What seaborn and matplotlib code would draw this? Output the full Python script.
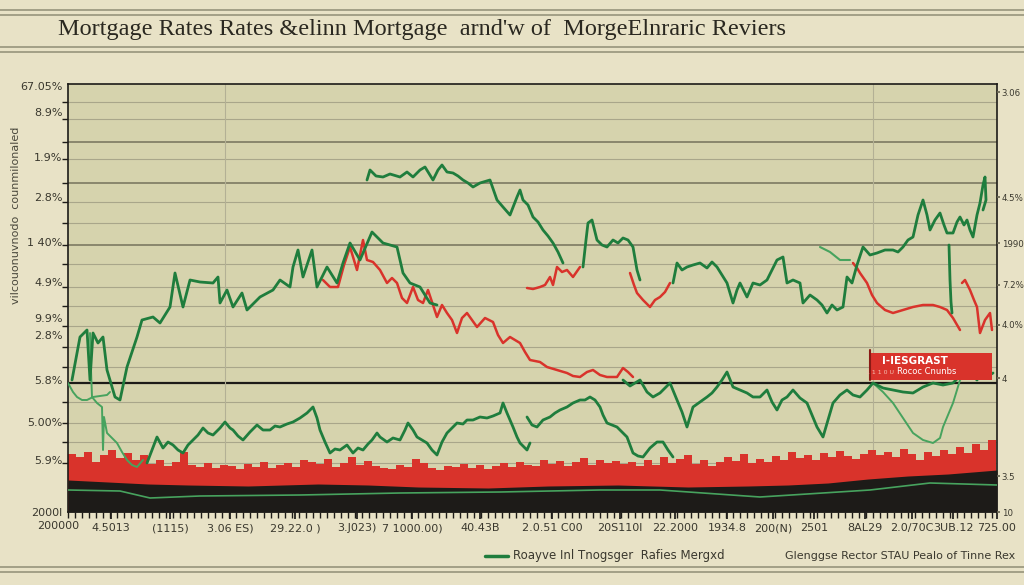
import matplotlib
matplotlib.use("Agg")
import matplotlib.pyplot as plt
import seaborn as sns
from matplotlib.lines import Line2D
from matplotlib.patches import Rectangle
from matplotlib.ticker import FixedLocator, NullLocator

# ---- data (x = trading day, y = index level) ----
main_x = [4, 12, 19, 22, 25, 30, 35, 39, 47, 52, 59, 69, 74, 85, 92, 102, 107, 115, 122, 132,
          145, 150, 152, 159, 165, 174, 179, 192, 205, 212, 222, 225, 230, 235, 244, 249, 259,
          269, 275, 282, 292, 304, 315, 329, 335, 342, 352, 362, 369]
main_y = [132, 175, 182, 132, 179, 169, 175, 142, 115, 112, 145, 175, 192, 195, 189, 205, 239,
          205, 232, 230, 229, 235, 209, 222, 205, 219, 202, 215, 222, 232, 225, 245, 262, 235,
          262, 225, 245, 229, 249, 269, 252, 280, 269, 265, 239, 229, 225, 209, 207]

red_x = [255, 262, 270, 276, 282, 289, 295, 299, 305, 312, 319, 324, 329, 334, 339, 345, 350,
         355, 360, 369, 374, 379, 384, 389, 394, 399, 404, 409, 417, 425, 430, 435, 442, 452,
         457, 462, 472, 479, 489, 499, 505, 512, 519, 525, 532, 539, 549, 555, 560, 565]
red_y = [232, 225, 225, 247, 265, 242, 272, 252, 250, 242, 229, 234, 229, 214, 209, 225, 212,
         209, 222, 195, 207, 199, 192, 179, 194, 199, 192, 185, 194, 190, 177, 169, 175, 169,
         160, 152, 150, 145, 142, 139, 136, 135, 140, 142, 137, 135, 135, 144, 140, 135]

mid_x = [555, 562, 572, 579, 585, 592, 597, 602, 609, 614, 619, 625, 632, 639, 644, 649, 654,
         659, 665, 672, 679, 685, 692, 699, 704, 709, 714, 719, 725, 732, 739, 744, 749, 755,
         760, 765, 772, 779, 785, 792, 799, 805, 815, 825, 835, 845, 855, 865, 875, 885, 892,
         897, 902, 909, 915, 920, 925]
mid_y = [132, 126, 132, 120, 115, 119, 124, 129, 112, 100, 85, 105, 110, 115, 119, 125, 132,
         140, 125, 122, 119, 115, 115, 122, 110, 102, 112, 115, 122, 114, 109, 97, 85, 75, 92,
         109, 117, 122, 117, 115, 122, 129, 124, 122, 120, 119, 125, 129, 127, 129, 136, 140,
         139, 132, 142, 136, 139]

top_x = [299, 302, 308, 315, 322, 332, 339, 345, 352, 357, 365, 370, 374, 379, 385, 390, 395,
         400, 405, 412, 422, 429, 435, 442, 449, 452, 455, 460, 465, 470, 475, 480, 485, 490, 495]
top_y = [332, 342, 336, 335, 338, 335, 340, 335, 342, 345, 332, 342, 347, 340, 339, 336, 332,
         329, 325, 329, 332, 312, 305, 297, 315, 322, 312, 307, 295, 290, 282, 276, 269, 260, 249]

hump_x = [515, 518, 520, 524, 529, 534, 539, 545, 550, 555, 560, 565, 569, 572]
hump_y = [245, 272, 289, 292, 272, 267, 265, 272, 269, 274, 272, 265, 242, 232]

red_a_x = [459, 465, 472, 477, 482, 485, 489, 494, 499, 505, 512]
red_a_y = [224, 223, 225, 227, 235, 227, 245, 240, 242, 235, 245]
red_b_x = [562, 566, 569, 575, 582, 587, 592, 597, 602]
red_b_y = [239, 227, 219, 212, 205, 212, 215, 220, 229]

right_x = [605, 609, 614, 619, 625, 632, 639, 644, 649, 654, 659, 665, 669, 672, 679, 685, 692,
           699, 704, 709, 715, 719, 725, 732, 735, 742, 749, 754, 759, 764, 769, 775, 779, 784,
           789, 795, 802, 809, 817, 825, 830, 835, 840, 845, 850, 855, 859, 862, 867, 872, 876,
           879, 885, 889, 892, 896, 899, 902, 905, 909, 912, 915, 917, 918, 915]
right_y = [229, 249, 242, 245, 247, 249, 244, 250, 245, 237, 229, 209, 222, 229, 215, 229, 227,
           232, 242, 252, 255, 229, 232, 229, 209, 217, 212, 207, 199, 207, 202, 205, 235, 229,
           247, 265, 257, 259, 262, 262, 260, 265, 272, 275, 297, 312, 297, 282, 292, 299, 287,
           279, 279, 290, 295, 287, 292, 282, 275, 297, 309, 327, 335, 312, 302]

drop_x = [881, 882, 883, 884]
drop_y = [267, 232, 210, 199]
fade_x = [752, 762, 772, 782]
fade_y = [265, 260, 252, 252]
red_c_x = [785, 789, 792, 799, 804, 809, 817, 825, 835, 845, 855, 865, 872, 879, 885, 892]
red_c_y = [249, 244, 239, 229, 217, 209, 202, 199, 202, 205, 207, 207, 205, 202, 194, 182]
red_d_x = [894, 897, 902, 906, 909, 912, 917, 922, 924]
red_d_y = [229, 232, 222, 212, 205, 179, 192, 199, 182]

low_x = [79, 84, 89, 95, 100, 105, 110, 115, 120, 125, 130, 135, 140, 145, 152, 157, 162, 165,
         170, 175, 182, 189, 195, 202, 207, 212, 219, 225, 232, 239, 245, 249, 252, 257, 262,
         267, 272, 279, 285, 290, 295, 300, 304, 309, 312, 319, 325, 332, 337, 340, 345, 349,
         354, 359, 364, 369, 374, 379, 384, 389, 395, 399, 405, 412, 419, 425, 432, 435, 439,
         445, 449, 452, 457, 459, 462]
low_y = [49, 62, 75, 64, 70, 67, 62, 59, 67, 72, 77, 84, 79, 77, 84, 90, 84, 82, 76, 72, 80,
         87, 82, 82, 86, 85, 88, 90, 94, 99, 105, 94, 82, 70, 59, 63, 62, 67, 59, 64, 62, 68,
         72, 79, 75, 70, 74, 72, 82, 89, 82, 75, 72, 69, 62, 57, 70, 79, 84, 89, 88, 92, 92,
         95, 94, 96, 99, 109, 99, 85, 75, 69, 64, 62, 69]
low2_x = [459, 464, 469, 475, 482, 487, 492, 499, 505, 512, 517, 522, 527, 532, 535, 539, 544,
          549, 554, 559, 562, 565, 570, 575, 582, 589, 595, 600, 605]
low2_y = [95, 87, 85, 92, 95, 99, 102, 105, 109, 112, 112, 115, 112, 105, 97, 89, 87, 85, 80,
          75, 67, 59, 56, 55, 64, 70, 70, 62, 55]

thin_a_x = [0, 5, 9, 14, 19, 25, 32, 39, 42]
thin_a_y = [129, 120, 115, 112, 112, 115, 116, 117, 120]
thin_b_x = [22, 23, 24, 29, 34, 35, 36, 39, 44, 49, 54, 59, 64, 69, 75]
thin_b_y = [179, 142, 115, 109, 105, 62, 95, 79, 74, 69, 60, 52, 47, 45, 52]
thin_c_x = [805, 815, 825, 835, 845, 855, 865, 872, 875, 880, 885, 889, 892, 897, 902]
thin_c_y = [129, 120, 109, 94, 79, 72, 69, 74, 85, 97, 109, 122, 132, 137, 139]

vol_x = list(range(4, 925, 8))
vol_h = [58, 55, 60, 50, 57, 62, 54, 59, 52, 57,
         48, 52, 46, 50, 60, 47, 45, 49, 44, 47,
         46, 43, 48, 45, 50, 44, 47, 49, 45, 52,
         50, 48, 53, 45, 49, 55, 47, 51, 46, 44,
         43, 47, 45, 53, 49, 44, 42, 46, 45, 48,
         44, 47, 43, 46, 49, 45, 50, 47, 46, 52,
         48, 51, 46, 50, 54, 47, 52, 49, 51, 48,
         50, 46, 52, 47, 55, 49, 53, 57, 48, 52,
         46, 50, 55, 51, 58, 49, 53, 50, 56, 52,
         60, 54, 57, 52, 59, 55, 61, 56, 53, 58,
         62, 57, 60, 55, 63, 58, 52, 60, 56, 62,
         58, 65, 59, 68, 62, 72]

base_x = [0, 40, 80, 120, 180, 250, 300, 350, 420, 480, 550, 620, 680, 720, 760, 800, 840, 880, 929]
base_y = [32, 30, 28, 27, 26, 28, 27, 25, 24, 26, 27, 25, 26, 27, 29, 33, 36, 38, 42]
avg_x = [0, 52, 82, 132, 232, 332, 432, 532, 592, 692, 802, 862, 929]
avg_y = [22, 21, 14, 16, 17, 19, 20, 22, 22, 15, 22, 29, 27]

left_pos = [426, 400, 355, 315, 270, 230, 194, 177, 132, 90, 52, 0]
left_lab = ["67.05%", "8.9%", "1.9%", "2.8%", "1 40%", "4.9%", "9.9%", "2.8%",
            "5.8%", "5.00%", "5.9%", "2000l"]
right_pos = [420, 315, 269, 227, 187, 134, 36, 0]
right_lab = ["3.06", "4.5%", "1990", "7.2%", "4.0%", "4", "3.5", "10"]
grid_pos = [410, 393, 370, 353, 329, 310, 289, 267, 248, 225, 206, 186, 165, 145, 110, 89, 70, 49]
x_pos = [43, 102, 162, 227, 289, 344, 412, 484, 552, 607, 659, 705, 746, 797, 844, 885, 929]
x_lab = ["4.5013", "(1115)", "3.06 ES)", "29.22.0 )", "3.J023)", "7 1000.00)", "40.43B",
         "2.0.51 C00", "20S110l", "22.2000", "1934.8", "200(N)", "2501", "8AL29",
         "2.0/70C", "3UB.12", "725.00"]

BG = "#e8e2c6"
FACE = "#d6d3ad"
GREEN = "#1f7d3d"
LGREEN = "#47a35e"
RED = "#d9332b"
BLACK = "#1d1b18"
TXT = "#3a382e"

sns.set_theme(style="white")
plt.rcParams["font.family"] = ["Liberation Sans Narrow", "DejaVu Sans"]

fig = plt.figure(figsize=(10.24, 5.85), dpi=100, facecolor=BG)
ax = fig.add_axes([68 / 1024, 73 / 585, 929 / 1024, 428 / 585])
ax.set_facecolor(FACE)
ax.set_xlim(0, 929)
ax.set_ylim(0, 428)

# grid
for g in grid_pos:
    dark = g in (370, 329, 267)
    ax.axhline(g, color="#7d7a62" if dark else "#a9a68a", lw=1.2 if dark else 0.8, zorder=1)
ax.axhline(129, color=BLACK, lw=1.6, zorder=1)
for v in (157, 805):
    ax.axvline(v, color="#b3b095", lw=0.8, zorder=1)

# volume and base
ax.bar(vol_x, vol_h, width=8, color=RED, zorder=2, linewidth=0)
ax.fill_between(base_x, 0, base_y, color=BLACK, zorder=3, linewidth=0)
sns.lineplot(x=avg_x, y=avg_y, sort=False, estimator=None, color=LGREEN, lw=1.2, ax=ax, zorder=4)

# price lines
def seg(xs, ys, color, lw=1.8):
    sns.lineplot(x=xs, y=ys, sort=False, estimator=None, color=color, lw=lw, ax=ax, zorder=5)

seg(thin_a_x, thin_a_y, LGREEN, 1.4)
seg(thin_b_x, thin_b_y, LGREEN, 1.4)
seg(thin_c_x, thin_c_y, LGREEN, 1.4)
seg(red_x, red_y, RED)
seg(red_a_x, red_a_y, RED)
seg(red_b_x, red_b_y, RED)
seg(red_c_x, red_c_y, RED)
seg(red_d_x, red_d_y, RED)
seg(fade_x, fade_y, LGREEN, 1.5)
seg(main_x, main_y, GREEN, 2.0)
seg(top_x, top_y, GREEN, 2.0)
seg(hump_x, hump_y, GREEN, 2.0)
seg(mid_x, mid_y, GREEN, 2.0)
seg(right_x, right_y, GREEN, 2.0)
seg(drop_x, drop_y, GREEN, 2.0)
seg(low_x, low_y, GREEN, 2.0)
seg(low2_x, low2_y, GREEN, 2.0)

# red tag box
ax.add_patch(Rectangle((802, 132), 122, 27, color=RED, zorder=6, linewidth=0))
ax.plot([802, 802], [132, 162], color="#8a1a14", lw=1.5, zorder=6)
ax.text(847, 151, "I-IESGRAST", color="white", fontsize=7.5, fontweight="bold",
        ha="center", va="center", zorder=7)
ax.text(859, 140, "Rococ Cnunbs", color="white", fontsize=6, ha="center", va="center", zorder=7)
ax.text(812, 140, "1 1 1 0 U", color="#f4c0b0", fontsize=4.5, ha="center", va="center", zorder=7)

# axes
for s in ax.spines.values():
    s.set_color(BLACK)
    s.set_linewidth(1.2)
ax.yaxis.set_major_locator(FixedLocator(left_pos))
ax.set_yticklabels(left_lab)
ax.yaxis.set_minor_locator(FixedLocator(grid_pos))
ax.xaxis.set_major_locator(FixedLocator(x_pos))
ax.set_xticklabels(x_lab)
ax.xaxis.set_minor_locator(FixedLocator(list(range(0, 930, 7))))
ax.tick_params(axis="y", which="major", length=0, pad=4, labelsize=8, labelcolor=TXT)
ax.tick_params(axis="y", which="minor", length=4, color=BLACK, left=True)
ax.tick_params(axis="x", which="major", length=5, pad=3, labelsize=8, labelcolor=TXT,
               bottom=True, color=BLACK)
ax.tick_params(axis="x", which="minor", length=4, bottom=True, color=BLACK)

ax2 = ax.twinx()
ax2.set_ylim(0, 428)
ax2.yaxis.set_major_locator(FixedLocator(right_pos))
ax2.set_yticklabels(right_lab)
ax2.yaxis.set_minor_locator(NullLocator())
ax2.tick_params(axis="y", length=2, pad=1.5, labelsize=6.2, labelcolor=TXT, right=True,
                color="#6b6854")
for s in ax2.spines.values():
    s.set_visible(False)

fig.text(58 / 1024, 1 - 526 / 585, "200000", fontsize=8, color=TXT, ha="center", va="center")

# title band
for yy in (10, 15, 47, 52, 567, 572):
    fig.add_artist(Line2D([0, 1], [1 - yy / 585] * 2, color="#9d9b82", lw=1.3))
fig.text(58 / 1024, 1 - 30 / 585,
         "Mortgage Rates Rates &elinn Mortgage  arnd'w of  MorgeElnraric Reviers",
         fontsize=17.5, family=["Liberation Serif", "DejaVu Serif"], color="#2a2820",
         ha="left", va="center")
fig.text(16 / 1024, 1 - 215 / 585, "vilcouonuvnodo  counmilonaled", rotation=90,
         fontsize=8, color="#4a483c", ha="center", va="center")

# legend
fig.add_artist(Line2D([485 / 1024, 508 / 1024], [1 - 556 / 585] * 2, color=GREEN, lw=2.5))
fig.text(513 / 1024, 1 - 556 / 585, "Roayve Inl Tnogsger  Rafies Mergxd", fontsize=8.5,
         color=TXT, ha="left", va="center")
fig.text(785 / 1024, 1 - 556 / 585, "Glenggse Rector STAU Pealo of Tinne Rex", fontsize=8,
         color=TXT, ha="left", va="center")

fig.savefig("out.png", dpi=100, facecolor=BG)
